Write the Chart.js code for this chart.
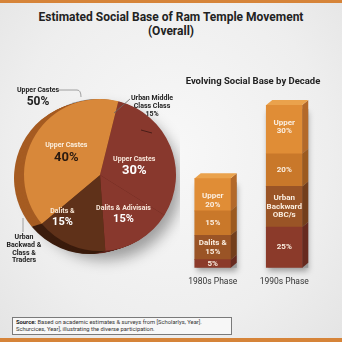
<!DOCTYPE html>
<html>
<head>
<meta charset="utf-8">
<script src="https://cdn.jsdelivr.net/npm/chart.js@4.4.1/dist/chart.umd.min.js"></script>
<style>
  html, body { margin: 0; padding: 0; }
  body {
    width: 342px; height: 342px; position: relative; overflow: hidden;
    background: radial-gradient(ellipse at 50% 45%, #f8f8f8 0%, #eeeeee 65%, #e4e4e4 100%);
    font-family: Roboto, "Liberation Sans", sans-serif;
  }
  .stripe { position: absolute; left: 0; width: 342px; background: #d68439; }
  #title {
    position: absolute; left: 0; top: 10px; width: 342px; text-align: center;
    font-weight: 700; font-size: 12px; line-height: 14px; color: #222;
  }
  #barTitle {
    position: absolute; left: 178px; top: 75px; width: 150px; text-align: center;
    font-weight: 700; font-size: 9.5px; line-height: 11px; color: #222;
  }
  #pie { position: absolute; left: 0; top: 80px; }
  #bars { position: absolute; left: 170px; top: 60px; }
  #source {
    position: absolute; left: 12px; top: 317px; width: 212px; height: 14px;
    border: 1px solid #7a7a7a; background: #f7f7f7; padding: 1px 3px;
    font-size: 5.8px; line-height: 7.4px; color: #333;
  }
  #source b { color: #222; }
</style>
</head>
<body>
<div class="stripe" style="top:0;height:3px"></div>
<div class="stripe" style="top:338px;height:4px"></div>
<div id="title">Estimated Social Base of Ram Temple Movement<br>(Overall)</div>
<canvas id="pie" width="180" height="195"></canvas>
<div id="barTitle">Evolving Social Base by Decade</div>
<canvas id="bars" width="160" height="240"></canvas>
<div id="source"><b>Source:</b> Based on academic estimates &amp; surveys from [Scholarlys, Year].<br>Schurcices, Year], illustrating the diverse participation.</div>

<script>
// ---- Overall pie data ----
const pieNames  = ['Upper Castes', 'Dalits & Adivisais', 'Dalits &', 'Upper Castes'];
const pieValues = [30, 15, 15, 40];

// ---- Decade columns data (stacked bottom to top) ----
const decades     = ['1980s Phase', '1990s Phase'];
const baseSeg     = [5, 25];
const lowerSeg    = [15, 25];
const middleSeg   = [15, 20];
const upperSeg    = [20, 30];
const lowerNames  = [['Dalits &'], ['Urban', 'Backward', 'OBC/s']];
const lowerShowPct = [true, false];
const upperNames  = [['Upper'], ['Upper']];

// ---- Callout notes around the pie ----
const noteUpper  = ['Upper Castes', '50%'];
const noteMiddle = ['Urban Middle', 'Class Class', '15%'];
const noteTrader = ['Urban', 'Backwad &', 'Class &', 'Traders'];

// ---- styling ----
const FONT = 'Roboto, "Liberation Sans", sans-serif';
const pieFace = ['#88382d', '#88382d', '#5f3119', '#d8883a'];
const pieSide = ['#5c231a', '#5c231a', '#3b1c0d', '#a65c22'];
const pieText = ['#f7e6da', '#f7e6da', '#f7e6d4', '#fbeedd'];
const piePctText = ['#ffffff', '#ffffff', '#ffffff', '#2a1a10'];
// where each slice label sits: fraction along the slice, fraction of radius
const pieLabelPos = [[0.55, 0.47], [0.5, 0.6], [0.85, 0.74], [0.52, 0.54]];

const segFace = ['#8b3a2a', '#9a5426', '#c9782a', '#e08d36'];
const segSide = ['#672a1f', '#733e1b', '#9c5a1f', '#b3692a'];
const segTop  = '#eaa24c';

function drawLines(ctx, lines, x, y, fonts, colors, lh) {
  ctx.textAlign = 'center';
  ctx.textBaseline = 'middle';
  let yy = y - (lh.reduce((a, b) => a + b, 0) - lh[lh.length - 1]) / 2;
  lines.forEach((t, i) => {
    ctx.font = fonts[i];
    ctx.fillStyle = colors[i];
    ctx.fillText(t, x, yy);
    yy += lh[i];
  });
}

const pie3d = {
  id: 'pie3d',
  beforeDatasetsDraw(chart) {
    const ctx = chart.ctx;
    const arcs = chart.getDatasetMeta(0).data;
    const c = arcs[0];
    // soft drop shadow
    ctx.save();
    ctx.shadowColor = 'rgba(0,0,0,0.35)';
    ctx.shadowBlur = 14;
    ctx.shadowOffsetX = 8;
    ctx.shadowOffsetY = 9;
    ctx.fillStyle = '#8a8a8a';
    ctx.beginPath();
    ctx.arc(c.x - 3, c.y, c.outerRadius, 0, Math.PI * 2);
    ctx.fill();
    ctx.restore();
    // thickness of the disc, seen on the left
    const depth = 10;
    for (let k = depth; k >= 1; k--) {
      arcs.forEach((a, i) => {
        const cx = a.x - k, cy = a.y + k * 0.3;
        ctx.beginPath();
        ctx.moveTo(cx, cy);
        ctx.arc(cx, cy, a.outerRadius, a.startAngle, a.endAngle);
        ctx.closePath();
        ctx.fillStyle = pieSide[i];
        ctx.fill();
      });
    }
  },
  afterDatasetsDraw(chart) {
    const ctx = chart.ctx;
    const arcs = chart.getDatasetMeta(0).data;
    ctx.save();
    arcs.forEach((a, i) => {
      const [t, rf] = pieLabelPos[i];
      const ang = a.startAngle + t * (a.endAngle - a.startAngle);
      const x = a.x + Math.cos(ang) * a.outerRadius * rf;
      const y = a.y + Math.sin(ang) * a.outerRadius * rf;
      const big = i === 0 || i === 3 ? 13 : 11;
      drawLines(ctx, [pieNames[i], pieValues[i] + '%'], x, y,
        ['bold 7px ' + FONT, 'bold ' + big + 'px ' + FONT],
        [pieText[i], piePctText[i]], [big === 13 ? 12 : 11, 0]);
    });

    const c = arcs[0];
    const cx = c.x, cy = c.y;
    // callout leaders
    ctx.lineWidth = 0.8;
    ctx.strokeStyle = '#8a8a8a';
    ctx.beginPath();
    ctx.moveTo(cx - 41, cy - 85);
    ctx.lineTo(cx - 23, cy - 85);
    ctx.quadraticCurveTo(cx - 19, cy - 85, cx - 19, cy - 78);
    ctx.stroke();
    ctx.beginPath();
    ctx.moveTo(cx - 77, cy + 43);
    ctx.lineTo(cx - 77, cy + 57);
    ctx.stroke();
    ctx.strokeStyle = '#6b6b6b';
    ctx.beginPath();
    ctx.moveTo(cx + 30, cy - 76);
    ctx.lineTo(cx + 14, cy - 62);
    ctx.stroke();
    ctx.strokeStyle = '#3a1712';
    ctx.beginPath();
    ctx.moveTo(cx + 41, cy - 45);
    ctx.lineTo(cx + 52, cy - 42);
    ctx.stroke();

    // callout texts
    drawLines(ctx, noteUpper, cx - 62, cy - 79,
      ['bold 7px ' + FONT, 'bold 12px ' + FONT], ['#222', '#222'], [12, 0]);
    drawLines(ctx, noteMiddle, cx + 52, cy - 69,
      ['bold 7px ' + FONT, 'bold 7px ' + FONT, 'bold 7px ' + FONT],
      ['#222', '#222', '#222'], [8, 7.5, 0]);
    drawLines(ctx, noteTrader, cx - 76, cy + 74,
      ['bold 7px ' + FONT, 'bold 7px ' + FONT, 'bold 7px ' + FONT, 'bold 7px ' + FONT],
      ['#222', '#222', '#222', '#222'], [7.6, 7.6, 7.6, 0]);
    ctx.restore();
  }
};

new Chart(document.getElementById('pie'), {
  type: 'pie',
  data: {
    labels: pieNames,
    datasets: [{ data: pieValues, backgroundColor: pieFace, borderWidth: 0, hoverOffset: 0 }]
  },
  options: {
    responsive: false,
    animation: false,
    rotation: 14,
    layout: { padding: { left: 24, right: 4, top: 19, bottom: 24 } },
    plugins: { legend: { display: false }, tooltip: { enabled: false } }
  },
  plugins: [pie3d]
});

const bar3d = {
  id: 'bar3d',
  beforeDatasetsDraw(chart) {
    const ctx = chart.ctx;
    const metas = chart.data.datasets.map((d, i) => chart.getDatasetMeta(i));
    ctx.save();
    ctx.shadowColor = 'rgba(0,0,0,0.35)';
    ctx.shadowBlur = 6;
    ctx.shadowOffsetY = 3;
    ctx.fillStyle = '#999';
    metas[0].data.forEach((b, j) => {
      const top = metas[metas.length - 1].data[j].y;
      ctx.fillRect(b.x - b.width / 2 + 2, top + 4, b.width + 4, b.base - top - 4);
    });
    ctx.restore();
  },
  afterDatasetsDraw(chart) {
    const ctx = chart.ctx;
    const dx = 6, dy = 5;
    const metas = chart.data.datasets.map((d, i) => chart.getDatasetMeta(i));
    ctx.save();
    metas.forEach((m, i) => {
      m.data.forEach((b) => {
        const r = b.x + b.width / 2;
        ctx.beginPath();
        ctx.moveTo(r, b.y);
        ctx.lineTo(r + dx, b.y - dy);
        ctx.lineTo(r + dx, b.base - dy);
        ctx.lineTo(r, b.base);
        ctx.closePath();
        ctx.fillStyle = segSide[i];
        ctx.fill();
      });
    });
    // lid on the top segment
    metas[metas.length - 1].data.forEach((b) => {
      const l = b.x - b.width / 2, r = b.x + b.width / 2;
      ctx.beginPath();
      ctx.moveTo(l, b.y);
      ctx.lineTo(l + dx, b.y - dy);
      ctx.lineTo(r + dx, b.y - dy);
      ctx.lineTo(r, b.y);
      ctx.closePath();
      ctx.fillStyle = segTop;
      ctx.fill();
    });
    // segment labels
    const txt = '#fbeee0';
    metas.forEach((m, i) => {
      m.data.forEach((b, j) => {
        const v = chart.data.datasets[i].data[j];
        let lines = [];
        if (i === 1) {
          lines = lowerNames[j].slice();
          if (lowerShowPct[j]) lines.push(v + '%');
        } else if (i === 3) {
          lines = upperNames[j].concat([v + '%']);
        } else {
          lines = [v + '%'];
        }
        const mid = (b.y + b.base) / 2;
        const fonts = lines.map(() => 'bold 8px ' + FONT);
        const cols = lines.map(() => txt);
        const lh = lines.map(() => 8.5);
        drawLines(ctx, lines, b.x, i === 3 ? b.y + 22 : mid, fonts, cols, lh);
      });
    });
    ctx.restore();
  }
};

new Chart(document.getElementById('bars'), {
  type: 'bar',
  data: {
    labels: decades,
    datasets: [
      { label: 'Base', data: baseSeg, backgroundColor: segFace[0] },
      { label: 'Lower', data: lowerSeg, backgroundColor: segFace[1] },
      { label: 'Middle', data: middleSeg, backgroundColor: segFace[2] },
      { label: 'Upper', data: upperSeg, backgroundColor: segFace[3] }
    ]
  },
  options: {
    responsive: false,
    animation: false,
    datasets: { bar: { barThickness: 36, borderWidth: 0 } },
    layout: { padding: { left: 7, right: 10, top: 45, bottom: 4 } },
    plugins: { legend: { display: false }, tooltip: { enabled: false } },
    scales: {
      x: {
        stacked: true,
        grid: { display: false, drawTicks: false },
        border: { display: false },
        ticks: { color: '#333', padding: 9, font: { size: 8.5, family: FONT } }
      },
      y: { stacked: true, display: false, min: 0, max: 100 }
    }
  },
  plugins: [bar3d]
});
</script>
</body>
</html>
